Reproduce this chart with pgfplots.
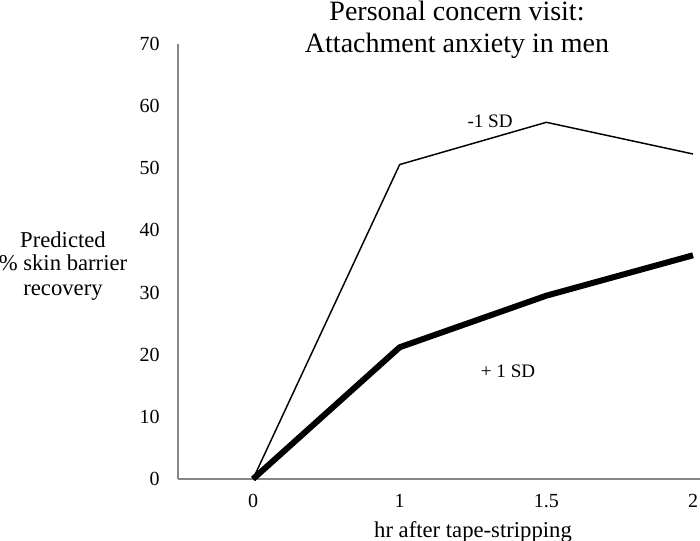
\documentclass[border=0pt]{standalone}
\usepackage{fontspec}
\setmainfont{Liberation Serif}
\usepackage{pgfplots}
\pgfplotsset{compat=1.18}
\definecolor{AxisGray}{RGB}{134,134,134}

\begin{document}
\begin{tikzpicture}
  % 1px = 0.75pt, origin = lower left corner of the axis
  \path[use as bounding box] (-133.5pt,-45.75pt) rectangle (391.5pt,359.25pt);
  \clip (-133.5pt,-45.75pt) rectangle (391.5pt,359.25pt);
  \begin{axis}[
      at={(0pt,0pt)}, anchor=south west,
      x=110pt, y=4.6607pt,
      xmin=-0.5114, xmax=3.1,
      ymin=0, ymax=70,
      axis x line=bottom, axis y line=left,
      axis line style={-, draw=AxisGray, line width=0.8pt},
      xtick={0,1,2,3},
      xticklabels={0,1,1.5,2},
      ytick={0,10,...,70},
      major tick length=0pt,
      tick label style={font=\fontsize{15}{17}\selectfont, inner sep=0pt},
      yticklabel style={anchor=east, xshift=-13.5pt},
      xticklabel style={anchor=north, yshift=-11pt},
      /pgf/number format/assume math mode=true,
      clip=false,
    ]
    \addplot[black, line width=1.1pt, line join=round] coordinates {
      (0,0) (1,50.6) (2,57.4) (3,52.3)
    };
    \addplot[black, line width=4.5pt, line join=round] coordinates {
      (0,0) (1,21.2) (2,29.5) (3,36.0)
    };
    \node[anchor=base, font=\fontsize{14.3}{16}\selectfont] at (axis cs:1.616,56.5) {-1 SD};
    \node[anchor=base, font=\fontsize{14.3}{16}\selectfont] at (axis cs:1.739,16.4) {+ 1 SD};
  \end{axis}
  \node[anchor=base, font=\fontsize{21}{25}\selectfont] at (209.25pt,343.5pt) {Personal concern visit:};
  \node[anchor=base, font=\fontsize{21}{25}\selectfont] at (209.25pt,319.5pt) {Attachment anxiety in men};
  \node[anchor=base, font=\fontsize{17}{20}\selectfont] at (-86.25pt,174pt) {Predicted};
  \node[anchor=base, font=\fontsize{17}{20}\selectfont] at (-86.25pt,156.75pt) {\% skin barrier};
  \node[anchor=base, font=\fontsize{17}{20}\selectfont] at (-86.25pt,138pt) {recovery};
  \node[anchor=base, font=\fontsize{17}{20}\selectfont] at (221.25pt,-43.5pt) {hr after tape-stripping};
\end{tikzpicture}
\end{document}
